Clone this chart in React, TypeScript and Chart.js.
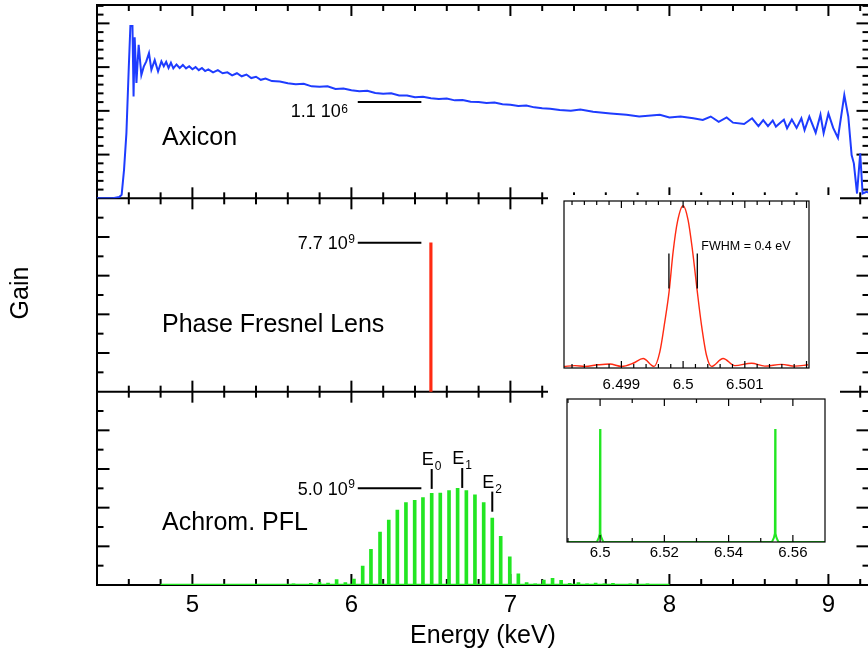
import React, { useEffect, useRef } from 'react';
import { Chart, registerables } from 'chart.js';

Chart.register(...registerables);

const FONT = '"Liberation Sans", Arial, Helvetica, sans-serif';
const BLUE = '#1e3cff';
const RED = '#ff2a12';
const GREEN = '#22e622';

// ---- Main panels ----
const xTitle = 'Energy (keV)';
const yTitle = 'Gain';
const xTickValues = [5, 6, 7, 8, 9];
const xTickLabels = ['5', '6', '7', '8', '9'];
const panelNames = ['Axicon', 'Phase Fresnel Lens', 'Achrom. PFL'];

// Axicon gain (units of 10^6)
const axiconEnergy = [
  4.40, 4.50, 4.54, 4.555, 4.57, 4.585, 4.60, 4.61, 4.623, 4.63,
  4.637, 4.648, 4.662, 4.679, 4.694, 4.71, 4.727, 4.742, 4.763, 4.784,
  4.805, 4.82, 4.835, 4.85, 4.865, 4.88, 4.90, 4.92, 4.94, 4.96,
  4.98, 5.00, 5.02, 5.04, 5.06, 5.08, 5.10, 5.13, 5.16, 5.19,
  5.22, 5.25, 5.28, 5.31, 5.34, 5.37, 5.40, 5.43, 5.46, 5.50,
  5.55, 5.60, 5.65, 5.70, 5.75, 5.80, 5.85, 5.90, 5.95, 6.00,
  6.05, 6.10, 6.15, 6.20, 6.25, 6.30, 6.35, 6.40, 6.45, 6.50,
  6.55, 6.60, 6.65, 6.70, 6.75, 6.80, 6.85, 6.90, 6.95, 7.00,
  7.05, 7.10, 7.15, 7.20, 7.25, 7.31, 7.38, 7.44, 7.52, 7.63,
  7.73, 7.81, 7.94, 8.00, 8.07, 8.15, 8.21, 8.26, 8.31, 8.36,
  8.40, 8.47, 8.52, 8.56, 8.59, 8.62, 8.65, 8.67, 8.72, 8.74,
  8.77, 8.80, 8.83, 8.85, 8.88, 8.92, 8.95, 8.97, 9.00, 9.03,
  9.06, 9.10, 9.125, 9.146, 9.16, 9.18, 9.20, 9.215, 9.24, 9.26,
];
const axiconGain = [
  0, 0, 0.015, 0.04, 0.325, 0.745, 1.505, 1.97, 1.97, 1.165,
  1.84, 1.32, 1.755, 1.41, 1.505, 1.565, 1.66, 1.47, 1.58, 1.45,
  1.565, 1.51, 1.56, 1.49, 1.55, 1.485, 1.53, 1.49, 1.525, 1.485,
  1.51, 1.475, 1.50, 1.465, 1.49, 1.455, 1.475, 1.44, 1.465, 1.43,
  1.44, 1.405, 1.43, 1.395, 1.415, 1.375, 1.39, 1.355, 1.37, 1.34,
  1.335, 1.315, 1.305, 1.31, 1.28, 1.275, 1.28, 1.25, 1.255, 1.235,
  1.225, 1.23, 1.205, 1.195, 1.20, 1.175, 1.175, 1.155, 1.16, 1.145,
  1.135, 1.14, 1.12, 1.125, 1.105, 1.10, 1.09, 1.095, 1.075, 1.07,
  1.055, 1.06, 1.04, 1.03, 1.025, 1.01, 1.00, 1.015, 0.99, 0.97,
  0.955, 0.935, 0.955, 0.925, 0.935, 0.915, 0.895, 0.935, 0.875, 0.925,
  0.865, 0.85, 0.915, 0.825, 0.895, 0.825, 0.89, 0.82, 0.90, 0.80,
  0.90, 0.805, 0.915, 0.78, 0.935, 0.75, 0.955, 0.745, 0.97, 0.805,
  0.69, 1.18, 0.935, 0.495, 0.40, 0.055, 0.515, 0.055, 0.075, 0.06,
];

// Phase Fresnel lens (units of 10^9)
const pflEnergy = [6.5];
const pflGain = [7.7];

// Achromatic PFL comb (units of 10^9)
const achromEnergy = [
  5.582, 5.636, 5.690, 5.745, 5.799, 5.853, 5.907, 5.962, 6.016, 6.071,
  6.123, 6.180, 6.235, 6.289, 6.343, 6.398, 6.450, 6.505, 6.559, 6.614,
  6.668, 6.723, 6.777, 6.832, 6.886, 6.939, 6.996, 7.050, 7.102, 7.156,
  7.210, 7.265, 7.319, 7.373, 7.428, 7.482, 7.536, 7.591, 7.645, 7.699,
  7.754, 7.808, 7.862, 7.917, 7.971,
];
const achromGain = [
  0.04, 0.06, 0.04, 0.08, 0.14, 0.10, 0.28, 0.12, 0.30, 0.98,
  1.84, 2.74, 3.36, 3.88, 4.26, 4.38, 4.52, 4.74, 4.76, 4.88,
  5.00, 4.88, 4.66, 4.26, 3.46, 2.52, 1.46, 0.58, 0.12, 0.06,
  0.26, 0.34, 0.24, 0.08, 0.12, 0.06, 0.10, 0.06, 0.08, 0.04,
  0.06, 0.04, 0.06, 0.04, 0.04,
];
const achromBaseEnergy = [4.8, 8.0];
const achromBaseGain = [0, 0];

// annotations
const leaderValues = [1.1, 7.7, 5.0];
const leaderBase = ['1.1 10', '7.7 10', '5.0 10'];
const leaderExp = ['6', '9', '9'];
const leaderFrom = 6.04;
const leaderTo = 6.44;
const eLabels = ['0', '1', '2'];
const eEnergy = [6.505, 6.697, 6.886];
const eTop = [6.0, 6.05, 4.83];
const eBottom = [4.97, 5.02, 3.79];

// ---- Inset 1 : PFL line profile ----
const pflZoomEnergy = [
  6.498071, 6.498245, 6.498407, 6.498622, 6.498812, 6.499002, 6.49919, 6.499352,
  6.49953, 6.499622, 6.499703, 6.499773, 6.499838, 6.499909, 6.5, 6.500081,
  6.500152, 6.500227, 6.500298, 6.500379, 6.50046, 6.500648, 6.500838, 6.501109,
  6.501324, 6.501595, 6.50181, 6.502026,
];
const pflZoomGain = [
  -0.01, -0.005, -0.01, 0.0, 0.005, -0.01, 0.01, 0.04,
  -0.01, 0.08, 0.27, 0.46, 0.71, 0.9, 1.0, 0.91,
  0.72, 0.47, 0.25, 0.06, -0.01, 0.04, -0.005, 0.01,
  -0.008, 0.003, -0.008, 0.0,
];
const pflZoomTicks = [6.499, 6.5, 6.501];
const pflZoomTickLabels = ['6.499', '6.5', '6.501'];
const fwhmEnergy = [6.49977, 6.50023];
const fwhmLow = 0.48;
const fwhmHigh = 0.7;
const fwhmText = 'FWHM = 0.4 eV';

// ---- Inset 2 : achromatic comb detail ----
const achromZoomEnergy = [
  6.4897, 6.499, 6.4996, 6.4999, 6.5, 6.5001, 6.5004, 6.501,
  6.5535, 6.5541, 6.5544, 6.5545, 6.5546, 6.5549, 6.5555, 6.57,
];
const achromZoomGain = [
  0, 0, 0.03, 0.06, 0.79, 0.06, 0.03, 0,
  0, 0.03, 0.06, 0.79, 0.06, 0.03, 0, 0,
];
const achromZoomTicks = [6.5, 6.52, 6.54, 6.56];
const achromZoomTickLabels = ['6.5', '6.52', '6.54', '6.56'];

const pts = (xs: number[], ys: number[]) => xs.map((x, i) => ({ x, y: ys[i] }));

function seg(ctx: CanvasRenderingContext2D, x1: number, y1: number, x2: number, y2: number) {
  ctx.beginPath();
  ctx.moveTo(x1, y1);
  ctx.lineTo(x2, y2);
  ctx.stroke();
}

const mainFrame = {
  id: 'mainFrame',
  beforeDatasetsDraw(chart: any) {
    const { ctx, chartArea: ca } = chart;
    const sx = chart.scales.x;
    const panels = [
      { s: chart.scales.yA, step: 0.1, major: 0.5 },
      { s: chart.scales.yP, step: 1, major: 2 },
      { s: chart.scales.yB, step: 1, major: 2 },
    ];
    const L = ca.left;
    const R = ca.right;
    ctx.save();
    ctx.strokeStyle = '#000';
    ctx.lineWidth = 2;
    const hy = [panels[0].s.top, panels[1].s.top, panels[2].s.top, panels[2].s.bottom];
    hy.forEach((y: number) => seg(ctx, L - 1, y, R + 1, y));
    seg(ctx, L, ca.top, L, ca.bottom);
    seg(ctx, R, ca.top, R, ca.bottom);
    for (let i = 23; i <= 46; i++) {
      const px = sx.getPixelForValue(i / 5);
      const len = i % 5 === 0 ? 11 : 6;
      seg(ctx, px, hy[0], px, hy[0] + len);
      seg(ctx, px, hy[1] - len, px, hy[1] + len);
      seg(ctx, px, hy[2] - len, px, hy[2] + len);
      seg(ctx, px, hy[3] - len, px, hy[3]);
    }
    panels.forEach((p) => {
      const n = Math.round((p.s.max - p.s.min) / p.step);
      for (let k = 1; k <= n; k++) {
        const v = k * p.step;
        if (v >= p.s.max - 1e-6) continue;
        const py = p.s.getPixelForValue(v);
        const r = v / p.major;
        const len = Math.abs(r - Math.round(r)) < 1e-6 ? 12.5 : 6.5;
        seg(ctx, L, py, L + len, py);
        seg(ctx, R - len, py, R, py);
      }
    });
    ctx.restore();
  },
  afterDatasetsDraw(chart: any) {
    const { ctx } = chart;
    const sx = chart.scales.x;
    const ys = [chart.scales.yA, chart.scales.yP, chart.scales.yB];
    ctx.save();
    ctx.fillStyle = '#000';
    ctx.strokeStyle = '#000';
    ctx.lineWidth = 2;
    ctx.textBaseline = 'alphabetic';
    // panel names
    ctx.font = `25px ${FONT}`;
    ctx.textAlign = 'left';
    const nameBase = [145, 331.5, 530];
    panelNames.forEach((t, i) => ctx.fillText(t, 162, nameBase[i]));
    // leaders with power labels
    const baseOff = [15.3, 6.3, 6.7];
    const supOff = [11.3, -0.3, -0.3];
    const rightEnd = [348, 355, 355];
    leaderValues.forEach((v, i) => {
      const y = ys[i].getPixelForValue(v);
      seg(ctx, sx.getPixelForValue(leaderFrom), y, sx.getPixelForValue(leaderTo), y);
      ctx.font = `12px ${FONT}`;
      const ew = ctx.measureText(leaderExp[i]).width;
      ctx.textAlign = 'left';
      ctx.fillText(leaderExp[i], rightEnd[i] - ew, y + supOff[i]);
      ctx.font = `18px ${FONT}`;
      ctx.textAlign = 'right';
      ctx.fillText(leaderBase[i], rightEnd[i] - ew - 0.5, y + baseOff[i]);
    });
    // E markers
    eEnergy.forEach((e, i) => {
      const px = sx.getPixelForValue(e);
      const yt = ys[2].getPixelForValue(eTop[i]);
      const yb = ys[2].getPixelForValue(eBottom[i]);
      seg(ctx, px, yt, px, yb);
      ctx.textAlign = 'left';
      ctx.font = `18px ${FONT}`;
      ctx.fillText('E', px - 10, yt - 4);
      ctx.font = `12px ${FONT}`;
      ctx.fillText(eLabels[i], px + 3, yt + 1);
    });
    // y title
    ctx.translate(21, 293);
    ctx.rotate(-Math.PI / 2);
    ctx.font = `25px ${FONT}`;
    ctx.textAlign = 'center';
    ctx.textBaseline = 'middle';
    ctx.fillText(yTitle, 0, 0);
    ctx.restore();
  },
};

const whiteBg = {
  id: 'whiteBg',
  beforeDraw(chart: any) {
    const { ctx, width, height } = chart;
    ctx.save();
    ctx.fillStyle = '#fff';
    ctx.fillRect(0, 0, width, height);
    ctx.restore();
  },
};

function insetFrame(iFrom: number, iTo: number, div: number, majEvery: number, extra?: (chart: any) => void) {
  return {
    id: 'insetFrame',
    afterDatasetsDraw(chart: any) {
      const { ctx, chartArea: ca } = chart;
      const sx = chart.scales.x;
      ctx.save();
      ctx.strokeStyle = '#000';
      ctx.lineWidth = 1.2;
      ctx.strokeRect(ca.left, ca.top, ca.right - ca.left, ca.bottom - ca.top);
      for (let i = iFrom; i <= iTo; i++) {
        const v = i / div;
        if (v <= sx.min + 1e-9 || v >= sx.max - 1e-9) continue;
        const px = sx.getPixelForValue(v);
        const len = i % majEvery === 0 ? 7 : 4;
        seg(ctx, px, ca.top, px, ca.top + len);
        seg(ctx, px, ca.bottom - len, px, ca.bottom);
      }
      if (extra) extra(chart);
      ctx.restore();
    },
  };
}

function baseScaleX(min: number, max: number, ticks: number[], labels: string[], pad: number, h: number) {
  return {
    type: 'linear' as const,
    min,
    max,
    offset: false,
    grid: { display: false, drawTicks: false },
    border: { display: false },
    afterBuildTicks: (s: any) => {
      s.ticks = ticks.map((v) => ({ value: v }));
    },
    ticks: {
      autoSkip: false,
      maxRotation: 0,
      padding: pad,
      color: '#000',
      font: { family: FONT, size: 15 },
      callback: (_v: any, i: number) => labels[i],
    },
    afterFit: (s: any) => {
      s.height = h;
    },
  };
}

export default function App() {
  const mainRef = useRef<HTMLCanvasElement>(null);
  const in1Ref = useRef<HTMLCanvasElement>(null);
  const in2Ref = useRef<HTMLCanvasElement>(null);

  useEffect(() => {
    const yPanel = (weight: number, max: number) => ({
      type: 'linear' as const,
      position: 'left' as const,
      stack: 'gain',
      stackWeight: 1,
      weight,
      min: 0,
      max,
      offset: false,
      grid: { display: false, drawTicks: false },
      border: { display: false },
      ticks: { display: false },
      afterFit: (s: any) => {
        s.width = 97;
      },
    });

    const main = new Chart(mainRef.current as HTMLCanvasElement, {
      type: 'line',
      data: {
        datasets: [
          {
            type: 'line',
            data: pts(axiconEnergy, axiconGain),
            yAxisID: 'yA',
            borderColor: BLUE,
            borderWidth: 2,
            pointRadius: 0,
            tension: 0,
            fill: false,
          },
          {
            type: 'bar',
            data: pts(pflEnergy, pflGain),
            yAxisID: 'yP',
            backgroundColor: RED,
            barThickness: 2.5,
            grouped: false,
            borderWidth: 0,
          },
          {
            type: 'line',
            data: pts(achromBaseEnergy, achromBaseGain),
            yAxisID: 'yB',
            borderColor: GREEN,
            borderWidth: 2.5,
            pointRadius: 0,
            fill: false,
          },
          {
            type: 'bar',
            data: pts(achromEnergy, achromGain),
            yAxisID: 'yB',
            backgroundColor: GREEN,
            barThickness: 3,
            grouped: false,
            borderWidth: 0,
          },
        ] as any,
      },
      options: {
        animation: false,
        responsive: false,
        maintainAspectRatio: false,
        events: [],
        layout: { padding: { left: 0, top: 5, right: 11, bottom: 0 } },
        plugins: { legend: { display: false }, tooltip: { enabled: false } },
        scales: {
          x: {
            type: 'linear',
            position: 'bottom',
            min: 4.4,
            max: 9.2553,
            offset: false,
            grid: { display: false, drawTicks: false },
            border: { display: false },
            afterBuildTicks: (s: any) => {
              s.ticks = xTickValues.map((v) => ({ value: v }));
            },
            ticks: {
              autoSkip: false,
              maxRotation: 0,
              padding: 6,
              color: '#000',
              font: { family: FONT, size: 24 },
              callback: (_v: any, i: number) => xTickLabels[i],
            },
            title: {
              display: true,
              text: xTitle,
              color: '#000',
              font: { family: FONT, size: 25 },
              padding: { top: 0, bottom: 10 },
            },
            afterFit: (s: any) => {
              s.height = 76;
            },
          },
          yA: yPanel(3, 2.21),
          yP: yPanel(2, 10),
          yB: yPanel(1, 10),
        } as any,
      },
      plugins: [mainFrame],
    });

    const in1 = new Chart(in1Ref.current as HTMLCanvasElement, {
      type: 'line',
      data: {
        datasets: [
          {
            data: pts(pflZoomEnergy, pflZoomGain),
            borderColor: RED,
            borderWidth: 1.4,
            pointRadius: 0,
            cubicInterpolationMode: 'monotone',
            fill: false,
          },
        ] as any,
      },
      options: {
        animation: false,
        responsive: false,
        maintainAspectRatio: false,
        events: [],
        layout: { padding: { left: 16, top: 6, right: 31, bottom: 0 } },
        plugins: { legend: { display: false }, tooltip: { enabled: false } },
        scales: {
          x: baseScaleX(6.49807, 6.50204, pflZoomTicks, pflZoomTickLabels, 8, 25),
          y: { display: false, min: -0.02, max: 1.03 },
        } as any,
      },
      plugins: [
        whiteBg,
        insetFrame(32491, 32510, 5000, 5, (chart: any) => {
          const { ctx } = chart;
          const sx = chart.scales.x;
          const sy = chart.scales.y;
          ctx.lineWidth = 1.3;
          fwhmEnergy.forEach((e) => {
            const px = sx.getPixelForValue(e);
            seg(ctx, px, sy.getPixelForValue(fwhmHigh), px, sy.getPixelForValue(fwhmLow));
          });
          ctx.fillStyle = '#000';
          ctx.font = `12.5px ${FONT}`;
          ctx.textAlign = 'left';
          ctx.textBaseline = 'middle';
          ctx.fillText(fwhmText, sx.getPixelForValue(fwhmEnergy[1]) + 4, 52);
        }),
      ],
    });

    const in2 = new Chart(in2Ref.current as HTMLCanvasElement, {
      type: 'line',
      data: {
        datasets: [
          {
            data: pts(achromZoomEnergy, achromZoomGain),
            borderColor: GREEN,
            borderWidth: 2,
            pointRadius: 0,
            tension: 0,
            fill: false,
          },
        ] as any,
      },
      options: {
        animation: false,
        responsive: false,
        maintainAspectRatio: false,
        events: [],
        layout: { padding: { left: 19, top: 6, right: 15, bottom: 0 } },
        plugins: { legend: { display: false }, tooltip: { enabled: false } },
        scales: {
          x: baseScaleX(6.4897, 6.57, achromZoomTicks, achromZoomTickLabels, 2, 24),
          y: { display: false, min: 0, max: 1 },
        } as any,
      },
      plugins: [whiteBg, insetFrame(649, 657, 100, 2)],
    });

    return () => {
      main.destroy();
      in1.destroy();
      in2.destroy();
    };
  }, []);

  return (
    <div
      style={{
        position: 'fixed',
        left: 0,
        top: 0,
        width: 880,
        height: 661,
        overflow: 'hidden',
        background: '#fff',
      }}
    >
      <canvas
        ref={mainRef}
        width={880}
        height={661}
        style={{ position: 'absolute', left: 0, top: 0, width: 880, height: 661 }}
      />
      <canvas
        ref={in1Ref}
        width={292}
        height={198}
        style={{ position: 'absolute', left: 548, top: 195, width: 292, height: 198 }}
      />
      <canvas
        ref={in2Ref}
        width={292}
        height={173}
        style={{ position: 'absolute', left: 548, top: 393, width: 292, height: 173 }}
      />
    </div>
  );
}
